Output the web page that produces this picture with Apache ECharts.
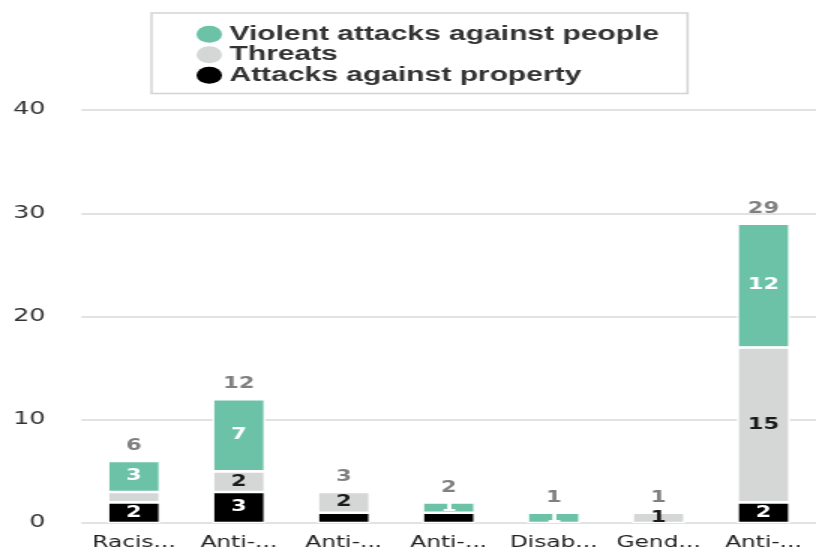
<!DOCTYPE html>
<html><head><meta charset="utf-8">
<script src="https://cdn.jsdelivr.net/npm/echarts@6/dist/echarts.min.js"></script>
<style>
html,body{margin:0;padding:0;background:#fff;overflow:hidden}
#wrap{width:816px;height:554px;overflow:hidden}
#main{width:544px;height:554px;transform:scaleX(1.5);transform-origin:0 0}
</style>
</head><body><div id="wrap"><div id="main"></div></div>
<script>
const categories = ['Racis...', 'Anti-...', 'Anti-...', 'Anti-...', 'Disab...', 'Gend...', 'Anti-...'];
const property = [2, 3, 1, 1, 0, 0, 2];
const threats = [1, 2, 2, 0, 0, 1, 15];
const violent = [3, 7, 0, 1, 1, 0, 12];
const totals = [6, 12, 3, 2, 1, 1, 29];
const yTicks = [0, 10, 20, 30, 40];
const seriesNames = ['Violent attacks against people', 'Threats', 'Attacks against property'];

const hiddenProperty = [2, 3];
const hiddenThreats = [0];

function build(values, hidden) {
  return values.map((v, i) => v === 0 ? '-' : (hidden.includes(i) ? { value: v, label: { show: false } } : v));
}

const chart = echarts.init(document.getElementById('main'), null, { renderer: 'canvas' });
const segLabel = (color) => ({
  show: true, position: 'inside', color: color,
  fontFamily: 'DejaVu Sans', fontWeight: 'bold', fontSize: 15
});
const BW = 1.3;
const common = { type: 'bar', stack: 'all', barWidth: 34 + BW, itemStyle: { borderColor: '#fff', borderWidth: BW } };

chart.setOption({
  animation: false,
  backgroundColor: '#fff',
  legend: {
    orient: 'vertical', left: 101, top: 13,
    padding: [11, 19, 8, 30],
    itemGap: 0, itemWidth: 17, itemHeight: 18, icon: 'circle',
    itemStyle: { borderWidth: 0 },
    borderColor: '#d3d3d3', borderWidth: 1.5,
    data: seriesNames,
    textStyle: { fontFamily: 'Liberation Sans', fontWeight: 'bold', fontSize: 20, lineHeight: 20.5, color: '#333' }
  },
  grid: { left: 54.3, top: 110, width: 495.6, height: 413, containLabel: false },
  xAxis: {
    type: 'category', data: categories,
    axisLine: { show: false }, axisTick: { show: false },
    axisLabel: { interval: 0, margin: 12, color: '#222', fontFamily: 'DejaVu Sans', fontSize: 15.5 }
  },
  yAxis: {
    type: 'value', min: yTicks[0], max: yTicks[yTicks.length - 1], interval: yTicks[1] - yTicks[0],
    axisLine: { show: false }, axisTick: { show: false },
    axisLabel: { margin: 24, color: '#333', fontFamily: 'DejaVu Sans', fontSize: 17 },
    splitLine: { lineStyle: { color: '#d9d9d9', width: 1.5 } }
  },
  series: [
    Object.assign({}, common, { name: seriesNames[2], data: build(property, hiddenProperty), itemStyle: Object.assign({}, common.itemStyle, { color: '#000000' }), label: segLabel('#ffffff') }),
    Object.assign({}, common, { name: seriesNames[1], data: build(threats, hiddenThreats), itemStyle: Object.assign({}, common.itemStyle, { color: '#d5d7d7' }), label: segLabel('#1a1a1a') }),
    Object.assign({}, common, { name: seriesNames[0], data: build(violent, []), itemStyle: Object.assign({}, common.itemStyle, { color: '#6cc2a7' }), label: segLabel('#ffffff') }),
    {
      type: 'bar', stack: 'all', name: 'total', barWidth: 34 + BW,
      data: totals.map(() => 0),
      itemStyle: { color: 'rgba(0,0,0,0)', borderWidth: 0 },
      label: {
        show: true, position: 'top', distance: 7,
        formatter: (p) => String(totals[p.dataIndex]),
        color: '#808080', fontFamily: 'DejaVu Sans', fontWeight: 'bold', fontSize: 15
      },
      tooltip: { show: false }
    }
  ]
});
</script>
</body></html>
